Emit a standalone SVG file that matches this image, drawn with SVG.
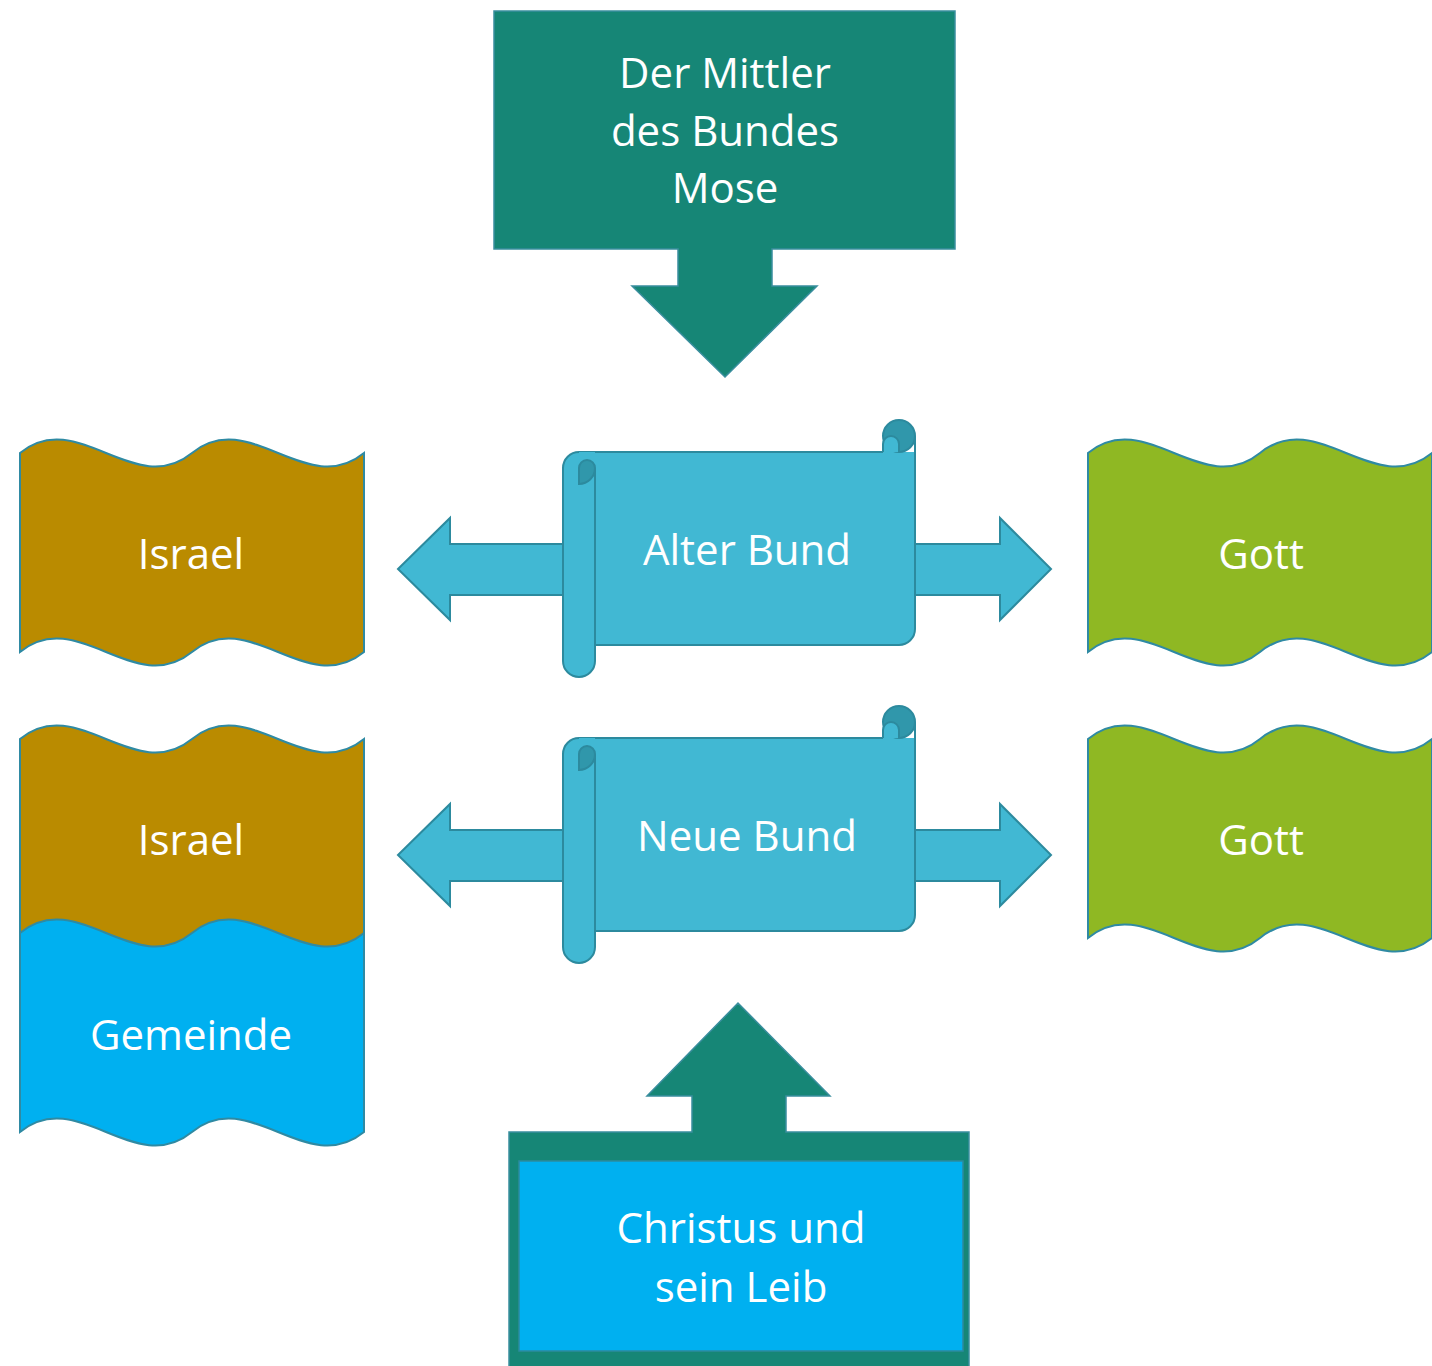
<svg xmlns="http://www.w3.org/2000/svg" xmlns:xlink="http://www.w3.org/1999/xlink" width="1432" height="1366" viewBox="0 0 1432 1366">
<style>
.t{font-family:"Open Sans","Noto Sans",sans-serif;font-size:42px;fill:#ffffff;text-anchor:middle}
.wave{stroke:#2F8AA3;stroke-width:2}
.brown{fill:#BA8B00}
.green{fill:#8FB823}
.blue{fill:#00B0F0}
.teal{fill:#168676;stroke:#3A8E9E;stroke-width:1.5}
.sc{fill:#41B8D3;stroke:none}
.scl{fill:none;stroke:#2C8A9E;stroke-width:2}
.scf{fill:#41B8D3;stroke:#2C8A9E;stroke-width:2}
.scd{fill:#3097AB;stroke:#2C8A9E;stroke-width:2}
</style>
<defs>
<path id="wave" d="M0,0 C57.3,-46.7 114.7,46.7 172,0 C229.3,-46.7 286.7,46.7 344,0 L344,199 C286.7,245.7 229.3,152.3 172,199 C114.7,245.7 57.3,152.3 0,199 Z"/>
<g id="scroll">
<path class="sc" d="M579,452 H915 V629 A16,16 0 0 1 899,645 H579 Z"/>
<path class="scl" d="M579,452 H883 M915,436 V629 A16,16 0 0 1 899,645 H595"/>
<circle class="scd" cx="899" cy="436" r="16"/>
<path class="scf" d="M883,452 V444 A8,8 0 0 1 899,444 V452"/>
<path class="sc" d="M563,468 A16,16 0 0 1 579,452 L595,452 L595,661 A16,16 0 0 1 563,661 Z"/>
<path class="scl" d="M595,468 L595,661 A16,16 0 0 1 563,661 L563,468 A16,16 0 0 1 579,452"/>
<path class="scd" d="M579,484 L579,468 A8,8 0 0 1 595,468 A16,16 0 0 1 579,484 Z"/>
</g>
<polygon id="darrow" class="scf" points="398,569 450,518 450,544 1000,544 1000,518 1051,569 1000,620 1000,595 450,595 450,620"/>
</defs>

<g id="connectors">
<use xlink:href="#darrow"/>
<use xlink:href="#darrow" y="286"/>
</g>

<g id="mittler">
<polygon class="teal" points="494,11 955,11 955,249 772,249 772,286 817,286 725,377 632,286 678,286 678,249 494,249"/>
<text class="t" x="725" y="88">Der Mittler</text>
<text class="t" x="725" y="146">des Bundes</text>
<text class="t" x="725" y="203">Mose</text>
</g>

<g id="israel1">
<use xlink:href="#wave" x="20" y="453" class="wave brown"/>
<text class="t" x="191" y="569">Israel</text>
</g>

<g id="gott1">
<use xlink:href="#wave" x="1088" y="453" class="wave green"/>
<text class="t" x="1261" y="569">Gott</text>
</g>

<g id="alterbund">
<use xlink:href="#scroll"/>
<text class="t" x="747" y="565">Alter Bund</text>
</g>

<g id="israel2">
<use xlink:href="#wave" x="20" y="739" class="wave brown"/>
<text class="t" x="191" y="855">Israel</text>
</g>

<g id="gemeinde">
<use xlink:href="#wave" x="20" y="933" class="wave blue"/>
<text class="t" x="191" y="1050">Gemeinde</text>
</g>

<g id="gott2">
<use xlink:href="#wave" x="1088" y="739" class="wave green"/>
<text class="t" x="1261" y="855">Gott</text>
</g>

<g id="neuebund">
<use xlink:href="#scroll" y="286"/>
<text class="t" x="747" y="851">Neue Bund</text>
</g>

<g id="christus">
<polygon class="teal" points="509,1132 692,1132 692,1096 647,1096 738,1003 830,1096 786,1096 786,1132 969,1132 969,1370 509,1370"/>
<rect x="519" y="1161" width="444" height="190" fill="#00B0F0" stroke="#2C8A9E" stroke-width="1.5"/>
<text class="t" x="741" y="1243">Christus und</text>
<text class="t" x="741" y="1302">sein Leib</text>
</g>
</svg>
